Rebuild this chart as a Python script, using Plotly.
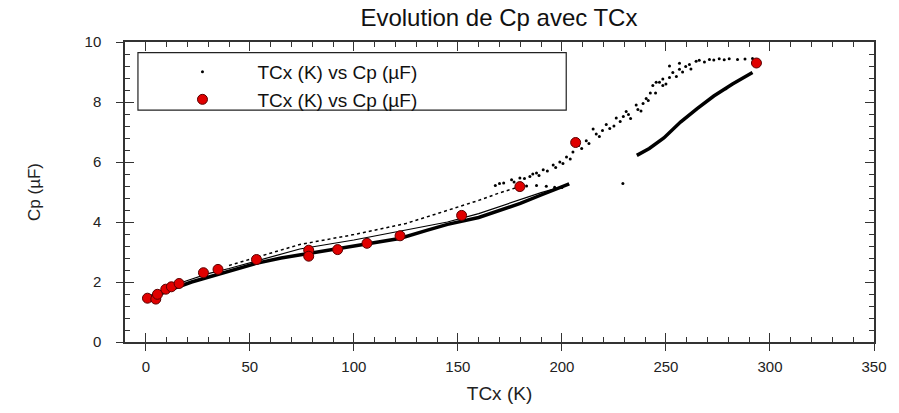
import plotly.graph_objects as go

# ---- data ----
# red markers (series 2)
red_x = [0.8, 4.8, 5.6, 9.6, 12.3, 16.0, 27.7, 34.7, 53.2, 78.3, 78.3, 92.2, 106.3, 122.2, 151.8, 179.8, 206.6, 293.5]
red_y = [1.46, 1.43, 1.59, 1.76, 1.84, 1.95, 2.31, 2.42, 2.75, 3.06, 2.86, 3.08, 3.29, 3.54, 4.22, 5.18, 6.65, 9.30]

# dense thick lower branch (series 1, appears as a solid band of points)
low_x = [0.5, 5, 10, 16, 22, 30, 40, 53, 65, 78, 90, 100, 110, 122, 135, 145, 160, 170, 180, 190, 197, 203.5]
low_y = [1.42, 1.55, 1.70, 1.85, 2.00, 2.16, 2.38, 2.62, 2.80, 2.95, 3.08, 3.20, 3.30, 3.45, 3.72, 3.92, 4.15, 4.38, 4.62, 4.90, 5.10, 5.27]

# middle thin branch
mid_x = [0.5, 10, 20, 30, 40, 53, 74, 100, 125, 145, 160, 175, 190, 203.5]
mid_y = [1.50, 1.80, 2.05, 2.28, 2.45, 2.70, 3.10, 3.40, 3.72, 4.00, 4.28, 4.62, 4.98, 5.25]

# upper dotted branch
top_x = [40, 53, 74, 100, 125, 141, 160, 170, 179.8]
top_y = [2.55, 2.81, 3.25, 3.58, 3.95, 4.30, 4.72, 4.97, 5.18]

# high-temperature thick branch
hi_x = [236, 242, 249, 257, 265, 273, 282, 291.6]
hi_y = [6.22, 6.45, 6.80, 7.33, 7.78, 8.20, 8.60, 8.98]

# scattered individual points
sc_x = [168, 172, 170, 175.8, 177, 179.8, 182, 184.6, 186, 187.8, 189, 191, 193, 195.8, 197, 199, 200.5, 202.2, 204, 205.3,
        183, 187.8, 192.5, 196.5, 200,
        208, 209.5, 211.7, 213, 215, 216.5, 218, 219.5, 221.3, 223, 225, 226.1, 228, 229.5, 230.9, 232, 233, 235.7, 236.5,
        238, 239, 240.5, 241.5, 242.5, 243.7, 245, 245.3, 246.9, 248.5, 248.5, 250, 251.7, 251.7, 253.3, 255,
        256.5, 256.5, 258, 259.5, 261.3, 262, 264.5, 266, 268.5, 270.9, 273, 275.6, 278, 280.4, 284.4, 288, 291.6,
        229.3, 278.8]
sc_y = [5.22, 5.30, 5.28, 5.41, 5.33, 5.47, 5.45, 5.52, 5.60, 5.63, 5.55, 5.74, 5.70, 5.90, 5.82, 6.00, 5.95, 6.17, 6.10, 6.33,
        5.20, 5.22, 5.19, 5.16, 5.15,
        6.55, 6.45, 6.71, 6.62, 7.10, 6.93, 6.85, 7.05, 7.25, 7.12, 7.20, 7.47, 7.35, 7.52, 7.68, 7.58, 7.45, 7.90, 7.75,
        7.70, 7.95, 8.12, 8.05, 8.30, 8.55, 8.30, 8.66, 8.66, 8.77, 8.55, 8.60, 8.82, 9.20, 8.98, 8.85,
        9.09, 9.29, 9.00, 9.18, 9.25, 9.10, 9.36, 9.39, 9.33, 9.42, 9.40, 9.44, 9.41, 9.44, 9.42, 9.43, 9.45,
        5.28, 8.44]

x_ticks = [0, 50, 100, 150, 200, 250, 300, 350]
y_ticks = [0, 2, 4, 6, 8, 10]

NAME = "TCx (K) vs Cp (µF)"
FONT = "Liberation Sans, Arial, sans-serif"

fig = go.Figure()
fig.add_trace(go.Scatter(x=low_x, y=low_y, mode="lines", line=dict(color="black", width=3.5),
                         showlegend=False, hoverinfo="skip"))
fig.add_trace(go.Scatter(x=hi_x, y=hi_y, mode="lines", line=dict(color="black", width=3.5),
                         showlegend=False, hoverinfo="skip"))
fig.add_trace(go.Scatter(x=mid_x, y=mid_y, mode="lines", line=dict(color="black", width=1.2),
                         showlegend=False, hoverinfo="skip"))
fig.add_trace(go.Scatter(x=top_x, y=top_y, mode="lines", line=dict(color="black", width=1.5, dash="dot"),
                         showlegend=False, hoverinfo="skip"))
fig.add_trace(go.Scatter(x=sc_x, y=sc_y, mode="markers", name=NAME,
                         marker=dict(color="black", size=3)))
fig.add_trace(go.Scatter(x=red_x, y=red_y, mode="markers", name=NAME,
                         marker=dict(color="#e00000", size=10, line=dict(color="#5a0000", width=1))))
# empty trace to host the outward tick overlay axes
fig.add_trace(go.Scatter(x=[], y=[], xaxis="x2", yaxis="y2", showlegend=False))

axis_common = dict(showgrid=False, zeroline=False, showline=True, linecolor="#333", linewidth=1.5,
                   mirror="allticks", ticks="inside", ticklen=9, tickcolor="#333", tickwidth=1.2,
                   tickfont=dict(family=FONT, size=15, color="#222"))

fig.update_layout(
    width=899, height=413,
    margin=dict(l=125, r=22, t=42, b=63),
    paper_bgcolor="white", plot_bgcolor="white",
    title=dict(text="Evolution de Cp avec TCx", x=0.555, xanchor="center", y=0.958, yanchor="middle",
               font=dict(family=FONT, size=24, color="#111")),
    xaxis=dict(range=[-10, 350], tickvals=x_ticks, ticklabelstandoff=10,
               minor=dict(dtick=10, tick0=0, ticks="inside", ticklen=5, tickcolor="#333"),
               title=dict(text="TCx (K)", font=dict(family=FONT, size=19, color="#222"), standoff=13),
               **axis_common),
    yaxis=dict(range=[0, 10], tickvals=y_ticks, ticklabelstandoff=19,
               minor=dict(dtick=0.4, tick0=0, ticks="inside", ticklen=5, tickcolor="#333"),
               title=dict(text="Cp (µF)", font=dict(family=FONT, size=17, color="#222"), standoff=40),
               **axis_common),
    xaxis2=dict(overlaying="x", anchor="y2", range=[-10, 350], tickvals=x_ticks, ticks="outside",
                ticklen=8, tickcolor="#333", tickwidth=1.2, showticklabels=False, showline=False,
                showgrid=False, zeroline=False),
    yaxis2=dict(overlaying="y", anchor="x2", range=[0, 10], tickvals=y_ticks, ticks="outside",
                ticklen=8, tickcolor="#333", tickwidth=1.2, showticklabels=False, showline=False,
                showgrid=False, zeroline=False),
    legend=dict(x=0.03, y=0.964, xanchor="left", yanchor="top", bgcolor="rgba(0,0,0,0)",
                borderwidth=0, itemwidth=100, tracegroupgap=0,
                font=dict(family=FONT, size=19, color="#111")),
    shapes=[dict(type="rect", xref="paper", yref="paper", x0=13/752, x1=443/752,
                 y0=(350-112)/308, y1=(350-53)/308, line=dict(color="#222", width=1.2),
                 fillcolor="white", layer="below")],
)

fig.write_html("out.html")
